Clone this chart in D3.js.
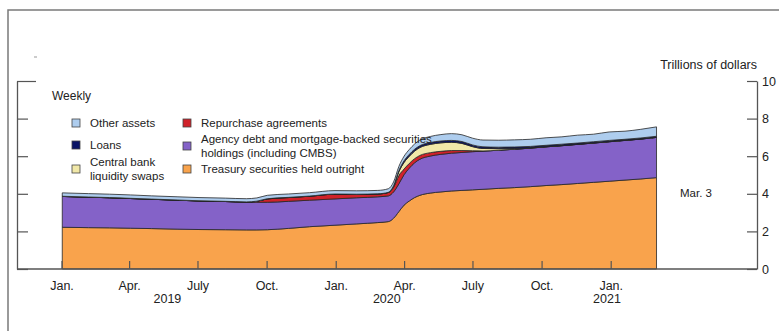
<!DOCTYPE html>
<html>
<head>
<meta charset="utf-8">
<script src="https://cdn.jsdelivr.net/npm/d3@7"></script>
<style>
  body { margin: 0; background: #fff; }
  svg { display: block; font-family: "Liberation Sans", Arial, sans-serif; }
</style>
</head>
<body>
<svg id="chart" width="779" height="331"></svg>
<script>
// weekly balance sheet, trillions of dollars
var dates = ["2019-01-02","2019-02-06","2019-03-06","2019-04-03","2019-05-01","2019-06-05",
  "2019-07-03","2019-08-07","2019-09-04","2019-09-18","2019-10-02","2019-10-30","2019-11-27",
  "2019-12-31","2020-01-29","2020-02-26","2020-03-11","2020-03-18","2020-03-25","2020-04-01",
  "2020-04-08","2020-04-15","2020-04-22","2020-05-06","2020-05-20","2020-06-03","2020-06-17",
  "2020-07-01","2020-07-15","2020-08-05","2020-08-26","2020-09-16","2020-10-07","2020-10-28",
  "2020-11-18","2020-12-09","2020-12-30","2021-01-20","2021-02-10","2021-03-03"];

var treasury = [2.22,2.20,2.19,2.17,2.15,2.12,2.10,2.09,2.08,2.08,2.09,2.16,2.25,2.33,2.40,2.47,
  2.52,2.70,3.05,3.40,3.62,3.80,3.92,4.04,4.10,4.15,4.18,4.21,4.24,4.29,4.33,4.38,4.44,4.49,
  4.55,4.61,4.67,4.73,4.79,4.86];
var agency = [1.64,1.62,1.60,1.58,1.56,1.54,1.52,1.50,1.48,1.47,1.46,1.44,1.41,1.40,1.39,1.37,
  1.37,1.40,1.48,1.62,1.75,1.85,1.92,1.97,2.00,2.01,2.02,2.03,2.03,2.03,2.04,2.05,2.06,2.07,
  2.08,2.09,2.10,2.11,2.12,2.14];
var repo = [0,0,0,0,0,0,0,0,0,0.05,0.18,0.20,0.21,0.25,0.18,0.15,0.18,0.25,0.44,0.30,0.25,0.22,
  0.20,0.18,0.16,0.14,0.10,0.05,0.01,0,0,0,0,0,0,0,0,0,0,0];
var swaps = [0,0,0,0,0,0,0,0,0,0,0,0,0,0,0,0,0,0.05,0.20,0.35,0.38,0.40,0.42,0.44,0.45,0.44,0.38,
  0.22,0.13,0.08,0.04,0.02,0.01,0.01,0.01,0.01,0.01,0.01,0.01,0.01];
var loans = [0.01,0.01,0.01,0.01,0.01,0.01,0.01,0.01,0.01,0.01,0.01,0.01,0.01,0.01,0.01,0.01,
  0.01,0.03,0.06,0.09,0.10,0.10,0.10,0.10,0.10,0.10,0.10,0.09,0.09,0.08,0.08,0.07,0.07,0.07,
  0.06,0.06,0.06,0.05,0.05,0.05];
var other = [0.18,0.18,0.18,0.18,0.17,0.17,0.17,0.17,0.17,0.17,0.18,0.18,0.18,0.18,0.18,0.18,
  0.19,0.20,0.22,0.24,0.26,0.28,0.30,0.32,0.34,0.36,0.36,0.36,0.36,0.37,0.38,0.38,0.40,0.39,
  0.42,0.40,0.45,0.43,0.46,0.50];

var monthTicks = ["2019-01-01","2019-04-01","2019-07-01","2019-10-01","2020-01-01",
  "2020-04-01","2020-07-01","2020-10-01","2021-01-01"];
var monthLabels = ["Jan.","Apr.","July","Oct.","Jan.","Apr.","July","Oct.","Jan."];
var yearLabels = ["2019","2020","2021"];
var yearDates = ["2019-05-22","2020-03-09","2020-12-27"];
var yTicks = [0,2,4,6,8,10];

var keys = ["treasury","agency","repo","swaps","loans","other"];
var colors = {treasury:"#f9a34c", agency:"#8462c8", repo:"#d0222a", swaps:"#f1e8a8",
  loans:"#0a1466", other:"#aecdee"};

var parse = d3.timeParse("%Y-%m-%d");
var rows = dates.map(function(d, i) {
  return {date: parse(d), treasury: treasury[i], agency: agency[i], repo: repo[i],
    swaps: swaps[i], loans: loans[i], other: other[i]};
});

var svg = d3.select("#chart");

// outer frame
svg.append("rect").attr("x", 8).attr("y", 10).attr("width", 820).attr("height", 400)
  .attr("fill", "none").attr("stroke", "#7a7a7a").attr("stroke-width", 1.5);
svg.append("line").attr("x1", 34).attr("x2", 37).attr("y1", 57).attr("y2", 57)
  .attr("stroke", "#999").attr("stroke-width", 1);

var x = d3.scaleTime().domain([parse("2019-01-01"), parse("2021-01-01")]).range([61.5, 610.7]);
var y = d3.scaleLinear().domain([0, 10]).range([269, 81]);

var stack = d3.stack().keys(keys);
var series = stack(rows);

var area = d3.area()
  .x(function(d) { return x(d.data.date); })
  .y0(function(d) { return y(d[0]); })
  .y1(function(d) { return y(d[1]); })
  .curve(d3.curveMonotoneX);

svg.append("g").selectAll("path")
  .data(series)
  .join("path")
  .attr("d", area)
  .attr("fill", function(d) { return colors[d.key]; })
  .attr("stroke", "#262626")
  .attr("stroke-width", 0.8)
  .attr("stroke-linejoin", "round");

// axes
var axisColor = "#555";
var xAxis = d3.axisBottom(x)
  .tickValues(monthTicks.map(parse))
  .tickSize(-8)
  .tickSizeOuter(0)
  .tickPadding(12)
  .tickFormat(function(d, i) { return monthLabels[i]; });
var gx = svg.append("g").attr("transform", "translate(0," + y(0) + ")").call(xAxis);
gx.select(".domain").remove();

svg.append("line").attr("x1", 17).attr("x2", 757).attr("y1", y(0)).attr("y2", y(0))
  .attr("stroke", axisColor).attr("stroke-width", 1.3);

var gr = svg.append("g").attr("transform", "translate(757,0)")
  .call(d3.axisRight(y).tickValues(yTicks).tickSize(-10).tickSizeOuter(0).tickPadding(5));

var gl = svg.append("g").attr("transform", "translate(17,0)")
  .call(d3.axisLeft(y).tickValues(yTicks).tickSize(-11).tickSizeOuter(0).tickFormat(""));
gl.selectAll(".tick").filter(function(d) { return d === 10; }).select("line").attr("x2", 19);

[gx, gr, gl].forEach(function(g) {
  g.selectAll("line").attr("stroke", axisColor).attr("stroke-width", 1.2);
  g.selectAll(".domain").attr("stroke", axisColor).attr("stroke-width", 1.3);
  g.selectAll("text").attr("fill", "#222").style("font-size", "12.5px")
    .style("font-family", "'Liberation Sans', Arial, sans-serif");
});

svg.append("g").selectAll("text")
  .data(yearLabels)
  .join("text")
  .attr("x", function(d, i) { return x(parse(yearDates[i])); })
  .attr("y", 303)
  .attr("text-anchor", "middle")
  .attr("fill", "#222")
  .style("font-size", "12.5px")
  .text(function(d) { return d; });

function label(t, xx, yy, anchor, size) {
  return svg.append("text").attr("x", xx).attr("y", yy)
    .attr("text-anchor", anchor || "start").attr("fill", "#222")
    .style("font-size", (size || 11.5) + "px").text(t);
}
label("Trillions of dollars", 757, 69, "end", 12.5);
label("Weekly", 52, 100, "start", 12);
label("Mar. 3", 696, 197, "middle", 11.5);

// legend
var legend = [
  {key: "other", lines: ["Other assets"], sx: 72, sy: 119},
  {key: "loans", lines: ["Loans"], sx: 72, sy: 141},
  {key: "swaps", lines: ["Central bank", "liquidity swaps"], sx: 72, sy: 165},
  {key: "repo", lines: ["Repurchase agreements"], sx: 183, sy: 119},
  {key: "agency", lines: ["Agency debt and mortgage-backed securities", "holdings (including CMBS)"], sx: 183, sy: 142},
  {key: "treasury", lines: ["Treasury securities held outright"], sx: 183, sy: 165}
];
var lg = svg.append("g").selectAll("g").data(legend).join("g");
lg.append("rect")
  .attr("x", function(d) { return d.sx; })
  .attr("y", function(d) { return d.sy; })
  .attr("width", 8).attr("height", 8)
  .attr("fill", function(d) { return colors[d.key]; })
  .attr("stroke", "#444").attr("stroke-width", 0.8);
lg.each(function(d) {
  var g = d3.select(this);
  var n = d.lines.length;
  d.lines.forEach(function(t, i) {
    g.append("text")
      .attr("x", d.sx + 18)
      .attr("y", d.sy + 8 + (i - (n - 1) / 2) * 14)
      .attr("fill", "#222")
      .style("font-size", "11.5px")
      .text(t);
  });
});
</script>
</body>
</html>
